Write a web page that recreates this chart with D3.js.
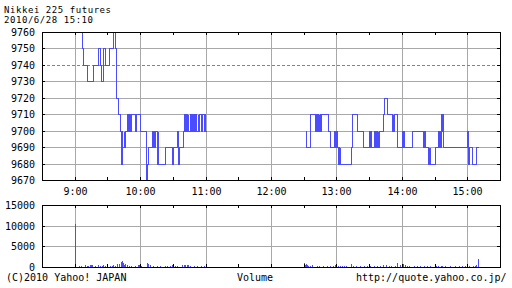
<!DOCTYPE html>
<html>
<head>
<meta charset="utf-8">
<script src="https://cdn.jsdelivr.net/npm/d3@7"></script>
<style>
  body { margin: 0; background: #fff; }
  text { font-family: "DejaVu Sans Mono", monospace; font-size: 10px; fill: #000; }
</style>
</head>
<body>
<div id="vis"></div>
<script>
const width = 512;
const height = 288;

const title = "Nikkei 225 futures";
const stamp = "2010/6/28 15:10";
const footLeft = "(C)2010 Yahoo! JAPAN";
const footMid = "Volume";
const footRight = "http://quote.yahoo.co.jp/";

const prevClose = 9740;
const priceTicks = [9670, 9680, 9690, 9700, 9710, 9720, 9730, 9740, 9750, 9760];
const volTicks = [0, 5000, 10000, 15000];
const hourLabels = [9, 10, 11, 12, 13, 14, 15];

// price steps: [minutes after 9:00, price]
const priceAM = [[0,9760],[6.4,9750],[7.9,9740],[11.6,9730],[17,9740],[21.7,9750],[23.2,9740],[24.1,9730],
  [26.2,9750],[27.8,9740],[31.8,9750],[35.5,9760],[36.5,9750],[37.9,9720],[40,9710],[41.5,9700],[42.4,9680],
  [42.8,9700],[43.3,9680],[43.6,9690],[44.8,9700],[45.4,9690],[46.2,9700],[48,9710],[48.6,9700],[50,9710],
  [50.5,9700],[51.6,9710],[55.3,9700],[55.8,9710],[59.9,9700],[65.7,9670],[66.2,9680],[67.2,9690],[70.9,9700],
  [71.6,9690],[72.2,9700],[72.7,9690],[73.9,9700],[75.7,9680],[76.2,9700],[76.7,9680],[82.8,9690],[89.5,9680],
  [90.4,9690],[93.5,9700],[94.4,9680],[95.9,9690],[99.6,9700],[100.5,9710],[101.2,9700],[101.8,9710],[102.7,9700],
  [103.5,9710],[104.3,9700],[105.3,9710],[106.2,9700],[107,9710],[107.8,9700],[108.8,9710],[109.8,9700],
  [110.6,9710],[111.5,9700],[112.6,9710],[113.5,9700],[114.4,9710],[116.2,9700],[117,9710],[118.5,9700],
  [119,9710],[119.5,9700],[120,9700]];

const pricePM = [[211.2,9700],[211.7,9690],[215.5,9700],[216.2,9710],[220.4,9700],[221.3,9710],[222,9700],
  [222.6,9710],[223.2,9700],[223.8,9710],[224.4,9700],[225,9710],[225.6,9700],[226.2,9710],[232.6,9700],
  [234.1,9690],[238.1,9700],[238.8,9690],[239.6,9700],[240.2,9690],[241.1,9680],[241.8,9690],[242.4,9680],
  [243,9690],[243.6,9680],[253.4,9690],[254,9710],[258.6,9700],[264.7,9690],[269.9,9700],[270.4,9690],
  [270.8,9700],[271.3,9690],[274.7,9700],[275.4,9690],[276.2,9700],[277,9690],[277.7,9700],[278.4,9690],
  [279.2,9700],[283,9710],[283.9,9720],[286,9710],[291.3,9700],[291.8,9710],[292.3,9700],[292.8,9710],
  [295.2,9700],[295.8,9690],[300.4,9700],[300.9,9690],[301.4,9700],[301.9,9690],[309.6,9700],[319.7,9690],
  [320.3,9700],[321,9690],[324,9680],[324.5,9690],[325,9680],[325.5,9690],[326,9680],[330.7,9690],[333.5,9700],
  [334,9690],[334.5,9700],[335,9690],[336.2,9710],[336.7,9700],[337.2,9710],[337.6,9690],[359.7,9700],
  [360.2,9690],[360.6,9700],[361,9680],[361.4,9690],[364,9680],[367.7,9690],[370.1,9690]];

// volume: [minutes after 9:00, contracts]
const volumes = [[0,10300],[4,250],[6,200],[9,450],[11,300],[12,350],[14,600],[15,550],[16,400],[19,300],
  [21,450],[23,300],[25,250],[26,400],[28,350],[30,550],[32,300],[34,350],[35,600],[37,300],[39,700],[41,750],
  [42,1100],[43,1450],[44,900],[45,600],[46,700],[48,400],[50,300],[52,350],[55,250],[58,450],[59,500],[60,400],
  [61,300],[66,1050],[67,700],[69,450],[72,300],[75,250],[78,300],[83,250],[85,300],[87,300],[89,550],[92,300],
  [94,250],[98,400],[100,500],[101,450],[103,550],[104,400],[106,350],[109,300],[112,250],[116,300],[119,250],
  [210,900],[211,600],[212,750],[213,400],[214,350],[216,300],[218,400],[222,300],[224,250],[228,300],[231,250],
  [234,350],[237,250],[239,600],[241,300],[243,250],[245,300],[247,250],[249,300],[253,650],[255,300],[258,250],
  [262,300],[265,250],[268,250],[271,300],[274,250],[277,300],[280,300],[283,550],[285,400],[288,300],[290,250],
  [294,300],[296,1050],[298,400],[301,700],[303,500],[305,300],[307,250],[311,300],[314,250],[317,250],[320,300],
  [323,250],[326,300],[331,300],[333,350],[336,300],[337,250],[340,300],[344,250],[349,250],[352,300],[355,250],
  [358,350],[360,650],[362,300],[365,250],[367,300],[368,400],[370,1900]];

const blue = "#4c4cff";
const grid = "#a8a8a8";

const base = new Date(2010, 5, 28, 9, 0);
const t = m => new Date(base.getTime() + m * 60000);

const svg = d3.select("#vis").append("svg")
  .attr("width", width)
  .attr("height", height)
  .style("display", "block");

const x = d3.scaleTime()
  .domain([new Date(2010, 5, 28, 8, 30), new Date(2010, 5, 28, 15, 30)])
  .rangeRound([42, 500]);
const y = d3.scaleLinear().domain([9670, 9760]).rangeRound([180, 32]);
const vy = d3.scaleLinear().domain([0, 15000]).rangeRound([267, 205]);

const hours = hourLabels.map(h => new Date(2010, 5, 28, h, 0));
const halfHours = d3.timeMinute.every(30).range(new Date(2010, 5, 28, 9, 0), new Date(2010, 5, 28, 15, 31));

// title lines, tight like the bitmap font of the original
svg.append("text").attr("x", 4).attr("y", 12.5)
  .style("font-size", "9px").attr("textLength", 107).attr("lengthAdjust", "spacing").text(title);
svg.append("text").attr("x", 4).attr("y", 23)
  .style("font-size", "9px").attr("textLength", 89).attr("lengthAdjust", "spacing").text(stamp);

function panel(ys, top, bottom, ticks, skip) {
  const g = svg.append("g").attr("shape-rendering", "crispEdges");
  g.selectAll(".hg").data(ticks.slice(1, -1).filter(d => d !== skip)).enter().append("line")
    .attr("x1", 42).attr("x2", 500)
    .attr("y1", d => ys(d) + 0.5).attr("y2", d => ys(d) + 0.5)
    .attr("stroke", grid);
  g.selectAll(".vg").data(hours).enter().append("line")
    .attr("x1", d => x(d) + 0.5).attr("x2", d => x(d) + 0.5)
    .attr("y1", top).attr("y2", bottom)
    .attr("stroke", grid);
  return g;
}

function frame(ys, top, bottom, ticks) {
  const axes = [
    [d3.axisTop(x).tickValues(halfHours), `translate(0,${top})`],
    [d3.axisBottom(x).tickValues(halfHours), `translate(0,${bottom})`],
    [d3.axisLeft(ys).tickValues(ticks), `translate(42,0)`],
    [d3.axisRight(ys).tickValues(ticks), `translate(500,0)`]
  ];
  axes.forEach(([ax, tr]) => {
    const a = svg.append("g").attr("transform", tr)
      .call(ax.tickSize(-3).tickFormat(""));
    a.select(".domain").remove();
    a.selectAll("line").attr("stroke", "#000").attr("shape-rendering", "crispEdges");
  });
  svg.append("rect")
    .attr("x", 42.5).attr("y", top + 0.5)
    .attr("width", 458).attr("height", bottom - top)
    .attr("fill", "none").attr("stroke", "#000")
    .attr("shape-rendering", "crispEdges");
  const lab = svg.append("g").attr("transform", "translate(42,0)")
    .call(d3.axisLeft(ys).tickValues(ticks).tickSize(0).tickPadding(7).tickFormat(d3.format("d")));
  lab.select(".domain").remove();
  lab.selectAll("text").attr("font-family", null).attr("font-size", null);
}

// price panel
const pg = panel(y, 32, 180, priceTicks, prevClose);
pg.append("line")
  .attr("x1", 42).attr("x2", 500)
  .attr("y1", y(prevClose) + 0.5).attr("y2", y(prevClose) + 0.5)
  .attr("stroke", "#ff5050").attr("stroke-dasharray", "3,2");

const line = d3.line()
  .curve(d3.curveStepAfter)
  .x(d => x(t(d[0])) + 0.5)
  .y(d => y(d[1]) + 0.5);

[priceAM, pricePM].forEach(s => {
  pg.append("path").attr("d", line(s))
    .attr("fill", "none").attr("stroke", blue).attr("stroke-width", 1);
});
frame(y, 32, 180, priceTicks);

const xl = svg.append("g").attr("transform", "translate(0,180)")
  .call(d3.axisBottom(x).tickValues(hours).tickSize(0).tickPadding(8).tickFormat(d3.timeFormat("%-H:%M")));
xl.select(".domain").remove();
xl.selectAll("text").attr("font-family", null).attr("font-size", null);

// volume panel
const vg = panel(vy, 205, 267, volTicks);
vg.selectAll(".bar").data(volumes).enter().append("line")
  .attr("x1", d => x(t(d[0])) + 0.5).attr("x2", d => x(t(d[0])) + 0.5)
  .attr("y1", vy(0)).attr("y2", d => vy(d[1]))
  .attr("stroke", blue);
frame(vy, 205, 267, volTicks);

svg.append("text").attr("x", 6).attr("y", 281).text(footLeft);
svg.append("text").attr("x", 237).attr("y", 281).text(footMid);
svg.append("text").attr("x", 356).attr("y", 281).text(footRight);
</script>
</body>
</html>
